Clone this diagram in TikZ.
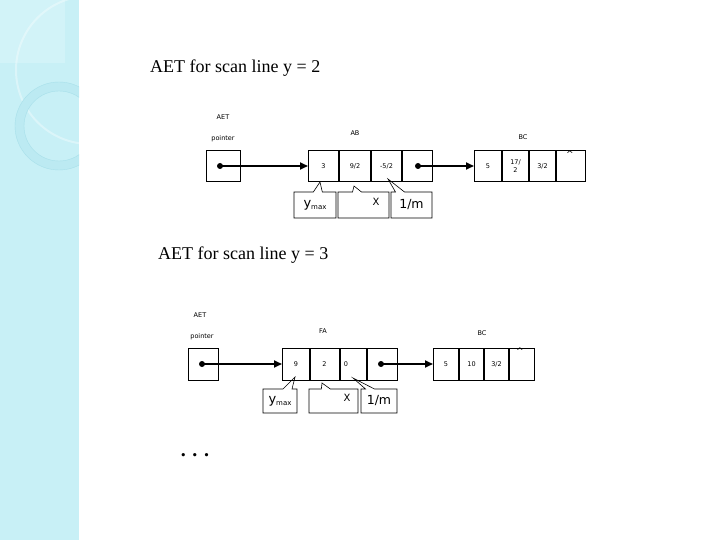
\documentclass[tikz,border=0pt]{standalone}
\usepackage{fontspec}
\setmainfont{Liberation Serif}
\newfontfamily\lblfont{DejaVu Sans}
\usetikzlibrary{shapes.callouts,arrows.meta}
\definecolor{sidebar}{RGB}{200,240,246}
\definecolor{sidebarlight}{RGB}{210,243,248}
\definecolor{ringc}{RGB}{188,234,242}
\definecolor{ringline}{RGB}{168,224,234}
\tikzset{
  title/.style={anchor=west, font=\fontsize{18}{21}\selectfont, inner sep=0pt},
  small/.style={font=\lblfont\fontsize{6.5}{7.5}\selectfont, inner sep=0pt},
  cell/.style={draw, line width=0.7pt, inner sep=0pt, outer sep=0pt, minimum height=31pt,
    font=\lblfont\fontsize{6.5}{7.5}\selectfont, align=center},
  divider/.style={line width=1.6pt},
  dotnode/.style={circle, fill=black, inner sep=0pt, minimum size=6pt},
  ptr/.style={line width=1.8pt, -{Triangle[length=8pt,width=7pt]}},
  co/.style={rectangle callout, draw, line width=0.6pt, inner sep=0pt, minimum height=26pt,
    callout pointer width=9pt, font=\lblfont},
  big/.style={font=\lblfont\fontsize{12.5}{14}\selectfont},
  nullmark/.style={font=\lblfont\fontsize{9}{9}\selectfont, inner sep=0pt},
}
\newcommand{\ymaxtext}{{\fontsize{13}{14}\selectfont y}{\fontsize{7}{8}\selectfont\raisebox{-2.5pt}{max}}}
\begin{document}
\begin{tikzpicture}[x=1pt,y=-1pt]
\useasboundingbox (0,0) rectangle (720,540);
% sidebar
\fill[sidebar] (0,0) rectangle (79,540);
\fill[sidebarlight] (0,0) rectangle (65,63);
\begin{scope}
  \clip (0,0) rectangle (79,540);
  \draw[white, opacity=0.35, line width=2pt] (90,70) circle (74);
  \draw[ringc, line width=9pt] (59,126) circle (39.5);
  \draw[ringline, line width=0.4pt] (59,126) circle (44);
  \draw[ringline, line width=0.4pt] (59,126) circle (35);
\end{scope}

% ---------------- diagram 1 ----------------
\node[title] (t1) at (150,68) {AET for scan line y = 2};
\node[small] (aet1) at (223,117) {AET};
\node[small] (pl1) at (223,139) {pointer};
\node[small] (abl) at (355,133) {AB};
\node[small] (bcl1) at (523,137) {BC};

\node[cell, minimum width=34pt] (p1) at (223,166) {};
\node[dotnode] (pd1) at (220,166) {};

\node[cell, minimum width=31pt] (ab1) at (323.5,166) {3};
\node[cell, minimum width=32pt] (ab2) at (355,166) {9/2};
\node[cell, minimum width=31pt] (ab3) at (386.5,166) {-5/2};
\node[cell, minimum width=30pt] (ab4) at (417,166) {};
\node[dotnode] (abd) at (418,166) {};
\draw[divider] (ab1.north east) -- (ab1.south east);
\draw[divider] (ab2.north east) -- (ab2.south east);
\draw[divider] (ab3.north east) -- (ab3.south east);

\node[cell, minimum width=28pt] (bc1) at (488,166) {5};
\node[cell, minimum width=27pt] (bc2) at (515.5,166) {17/\\2};
\node[cell, minimum width=27pt] (bc3) at (542.5,166) {3/2};
\node[cell, minimum width=29pt] (bc4) at (570.5,166) {};
\node[nullmark] (nul1) at (570,154) {\textasciicircum};
\draw[divider] (bc1.north east) -- (bc1.south east);
\draw[divider] (bc2.north east) -- (bc2.south east);
\draw[line width=0.6pt] ([xshift=-1.2pt]bc3.north east) -- ([xshift=-1.2pt]bc3.south east);

\draw[ptr] (pd1.center) -- (ab1.west);
\draw[ptr] (abd.center) -- (bc1.west);

\node[co, minimum width=42pt, callout absolute pointer={(320,182)}] (ym1) at (315,205) {\ymaxtext};
\node[co, minimum width=51pt, callout absolute pointer={(354,186)}] (x1) at (363.5,205) {};
\node[font=\lblfont\fontsize{10}{12}\selectfont, inner sep=0pt] (xl1) at (376,202) {X};
\node[co, big, minimum width=41pt, callout absolute pointer={(388,179)}] (m1) at (411.5,205) {1/m};

% ---------------- diagram 2 ----------------
\node[title] (t2) at (158,255) {AET for scan line y = 3};
\node[small] (aet2) at (200,315) {AET};
\node[small] (pl2) at (202,337) {pointer};
\node[small] (fal) at (323,331) {FA};
\node[small] (bcl2) at (482,333) {BC};

\node[cell, minimum width=30pt, minimum height=32pt] (p2) at (203,364) {};
\node[dotnode] (pd2) at (202,364) {};

\node[cell, minimum width=28pt, minimum height=32pt] (fa1) at (296,364) {9};
\node[cell, minimum width=29pt, minimum height=32pt] (fa2) at (324.5,364) {2};
\node[cell, minimum width=28pt, minimum height=32pt] (fa3) at (353,364) {\hspace*{-14pt}0};
\node[cell, minimum width=30pt, minimum height=32pt] (fa4) at (382,364) {};
\node[dotnode] (fad) at (381,364) {};
\draw[divider] (fa1.north east) -- (fa1.south east);
\draw[divider] (fa3.north east) -- (fa3.south east);
\draw[line width=0.6pt] ([xshift=1.2pt]fa2.north east) -- ([xshift=1.2pt]fa2.south east);

\node[cell, minimum width=26pt, minimum height=32pt] (bd1) at (446,364) {5};
\node[cell, minimum width=25pt, minimum height=32pt] (bd2) at (471.5,364) {10};
\node[cell, minimum width=25pt, minimum height=32pt] (bd3) at (496.5,364) {3/2};
\node[cell, minimum width=25pt, minimum height=32pt] (bd4) at (521.5,364) {};
\node[nullmark] (nul2) at (520,351) {\textasciicircum};
\draw[divider] (bd1.north east) -- (bd1.south east);
\draw[divider] (bd2.north east) -- (bd2.south east);
\draw[divider] (bd3.north east) -- (bd3.south east);

\draw[ptr] (pd2.center) -- (fa1.west);
\draw[ptr] (fad.center) -- (bd1.west);

\node[co, minimum width=34pt, minimum height=24pt, callout absolute pointer={(295,377)}] (ym2) at (280,401) {\ymaxtext};
\node[co, minimum width=49pt, minimum height=24pt, callout absolute pointer={(322,383)}] (x2) at (333.5,401) {};
\node[font=\lblfont\fontsize{10}{12}\selectfont, inner sep=0pt] (xl2) at (347,398) {X};
\node[co, big, minimum width=36pt, minimum height=24pt, callout absolute pointer={(353,378)}] (m2) at (379,401) {1/m};

\node[font=\bfseries\fontsize{20}{22}\selectfont, inner sep=0pt] (dots) at (195,455) {. . .};
\end{tikzpicture}
\end{document}
